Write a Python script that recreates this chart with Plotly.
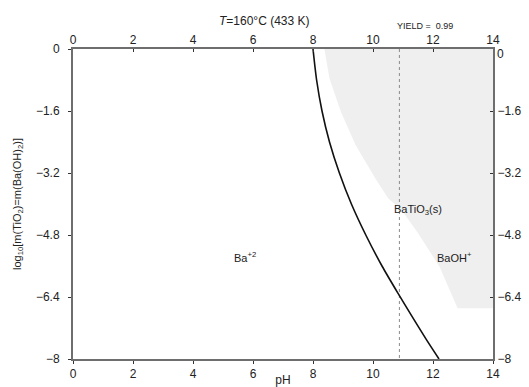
import plotly.graph_objects as go

# Solubility boundary of BaTiO3(s) at 160 °C: pH vs log10 concentration
boundary_ph = [8.0, 8.12, 8.3, 8.55, 8.88, 9.28, 9.76, 10.3, 10.83, 11.3, 11.78, 12.2]
boundary_log = [0.0, -0.8, -1.6, -2.4, -3.2, -4.0, -4.8, -5.6, -6.3, -6.9, -7.5, -8.0]

# Light grey BaOH+ predominance region (left edge, then closed at the right axis)
region_ph = [8.38, 8.55, 8.93, 9.42, 10.08, 10.51, 10.96, 11.51, 12.22, 12.71, 12.82, 14.0, 14.0]
region_log = [0.0, -0.76, -1.62, -2.48, -3.34, -3.86, -4.16, -4.76, -5.62, -6.48, -6.69, -6.69, 0.0]

# pH giving a 0.99 yield
yield_ph = 10.88
yield_label = "YIELD =  0.99"

x_ticks = [0, 2, 4, 6, 8, 10, 12, 14]
y_ticks = [0, -1.6, -3.2, -4.8, -6.4, -8]
y_tick_text = ["0", "\u22121.6", "\u22123.2", "\u22124.8", "\u22126.4", "\u22128"]

# Region labels: (pH, log10 m, text)
labels = [
    (5.72, -5.38, "Ba<sup>+2</sup>"),
    (11.51, -4.15, "BaTiO<sub>3</sub>(s)"),
    (12.73, -5.36, "BaOH<sup>+</sup>"),
]

FONT = "Liberation Sans, Arial, sans-serif"
AXIS_COLOR = "#6e6e6e"

fig = go.Figure()

fig.add_trace(go.Scatter(
    x=region_ph, y=region_log, mode="lines", fill="toself",
    fillcolor="#efefef", line=dict(width=0), hoverinfo="skip",
))

fig.add_trace(go.Scatter(
    x=[yield_ph, yield_ph], y=[0, -8], mode="lines",
    line=dict(color="#8a8a8a", width=1, dash="dot"), hoverinfo="skip",
))

fig.add_trace(go.Scatter(
    x=boundary_ph, y=boundary_log, mode="lines",
    line=dict(color="#111111", width=1.6, shape="spline", smoothing=0.7),
))

# invisible traces to activate the top and right axes
fig.add_trace(go.Scatter(x=[0], y=[0], xaxis="x2", yaxis="y", mode="markers",
                         marker=dict(opacity=0), hoverinfo="skip"))
fig.add_trace(go.Scatter(x=[0], y=[0], xaxis="x", yaxis="y2", mode="markers",
                         marker=dict(opacity=0), hoverinfo="skip"))

for px, ly, txt in labels:
    fig.add_annotation(x=px, y=ly, text=txt, showarrow=False,
                       font=dict(family=FONT, size=11, color="#222222"))

fig.add_annotation(x=yield_ph + 0.85, y=0, yref="y", text=yield_label, showarrow=False,
                   yanchor="middle", yshift=23, font=dict(family=FONT, size=9, color="#222222"))
fig.add_annotation(xref="paper", yref="paper", x=0.455, y=1.0, yanchor="middle", yshift=28,
                   text="<i>T</i>=160\u00b0C (433 K)", showarrow=False,
                   font=dict(family=FONT, size=12, color="#222222"))
# right-axis zero label, nudged below the top "14"
fig.add_annotation(x=14, y=0, text="0", showarrow=False, xanchor="left",
                   xshift=2, yshift=-5, font=dict(family=FONT, size=12, color="#222222"))

axis_common = dict(showgrid=False, zeroline=False, showline=True, linecolor=AXIS_COLOR,
                   linewidth=2, tickcolor="#333333", ticklen=3, tickwidth=1,
                   automargin=False,
                   tickfont=dict(family=FONT, size=12, color="#222222"))

fig.update_layout(
    width=529, height=387,
    margin=dict(l=73, r=36, t=49, b=28),
    paper_bgcolor="white", plot_bgcolor="white",
    showlegend=False,
    xaxis=dict(range=[0, 14], tickvals=x_ticks, ticks="outside",
               title=dict(text="pH", standoff=0, font=dict(family=FONT, size=12, color="#222222")),
               **axis_common),
    xaxis2=dict(range=[0, 14], tickvals=x_ticks, ticks="inside", overlaying="x",
                side="top", matches="x", ticklabelstandoff=-2, **axis_common),
    yaxis=dict(range=[-8, 0], tickvals=y_ticks, ticktext=y_tick_text, ticks="outside",
               ticklabelstandoff=6,
               title=dict(text="log<sub>10</sub>[m(TiO<sub>2</sub>)=m(Ba(OH)<sub>2</sub>)]",
                          standoff=12, font=dict(family=FONT, size=11, color="#222222")),
               **axis_common),
    yaxis2=dict(range=[-8, 0], tickvals=y_ticks[1:], ticktext=y_tick_text[1:],
                ticks="inside", overlaying="y", side="right", matches="y", **axis_common),
)

fig.write_html("out.html")
